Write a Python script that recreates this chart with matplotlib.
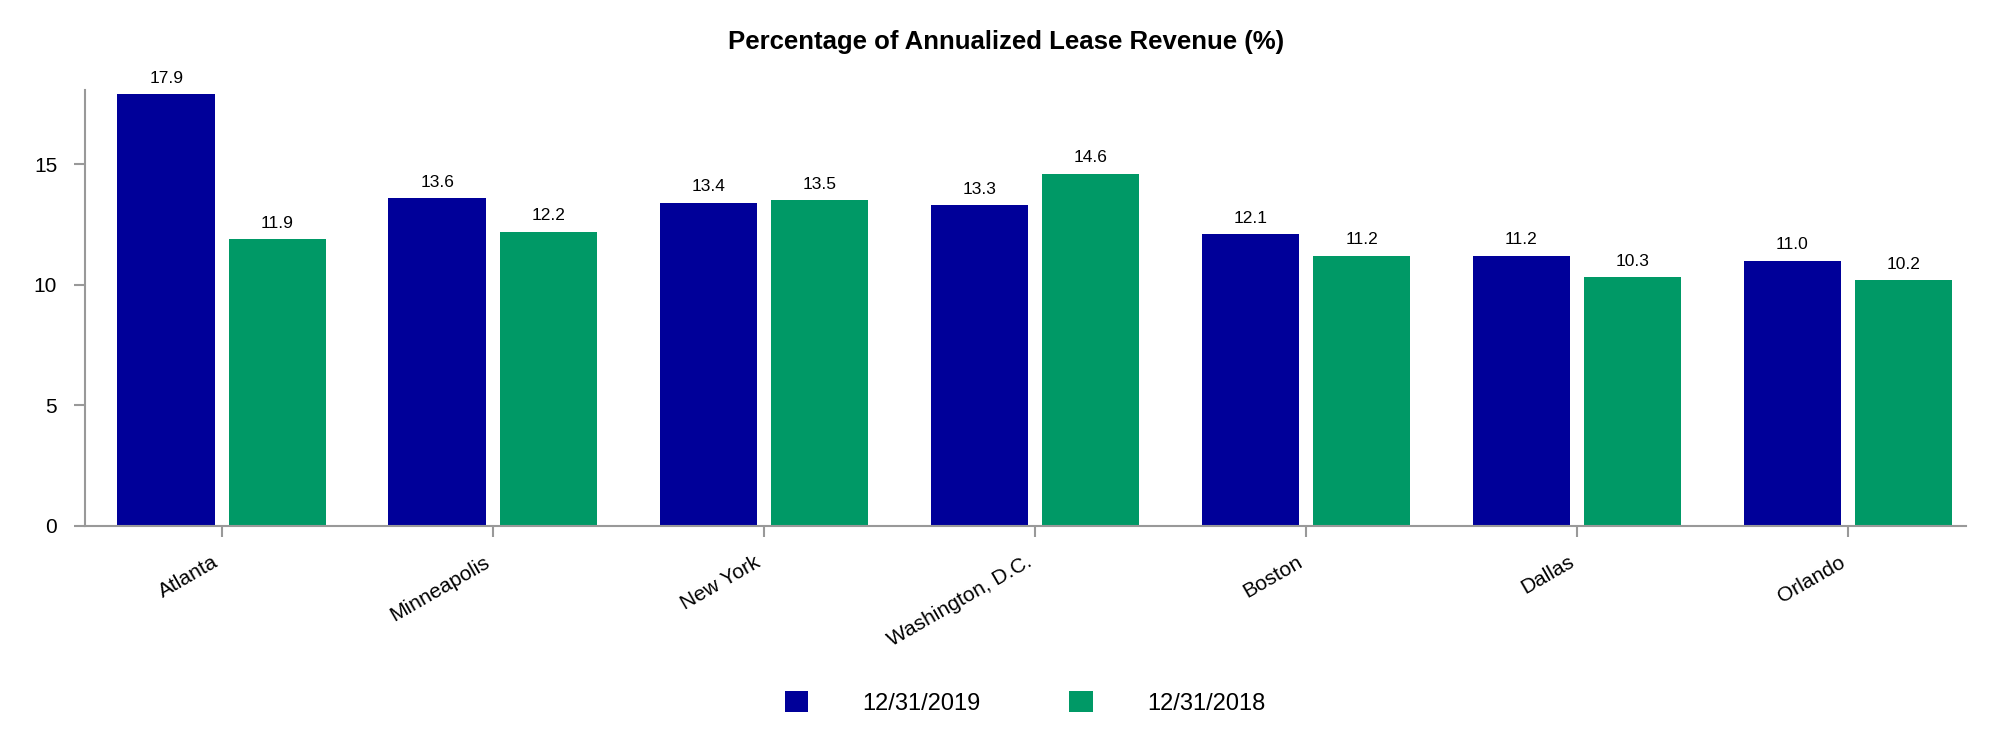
import numpy as np
import matplotlib
matplotlib.use("Agg")
import matplotlib.pyplot as plt
from matplotlib.transforms import ScaledTranslation

plt.rcParams['font.family'] = ['Liberation Sans', 'DejaVu Sans']

cities = ['Atlanta', 'Minneapolis', 'New York', 'Washington, D.C.',
          'Boston', 'Dallas', 'Orlando']
rev_2019 = [17.9, 13.6, 13.4, 13.3, 12.1, 11.2, 11.0]
rev_2018 = [11.9, 12.2, 13.5, 14.6, 11.2, 10.3, 10.2]
series_labels = ['12/31/2019', '12/31/2018']
yticks = [0, 5, 10, 15]

blue = '#000099'
green = '#009966'
axis_grey = '#999999'

fig = plt.figure(figsize=(20.12, 7.54), dpi=100)
ax = fig.add_axes([0.0422, 0.3024, 0.9349, 0.5782])

x = np.arange(len(cities))
w = 0.36
off = 0.205
b1 = ax.bar(x - off, rev_2019, w, color=blue, label=series_labels[0])
b2 = ax.bar(x + off, rev_2018, w, color=green, label=series_labels[1])

for bars in (b1, b2):
    ax.bar_label(bars, fmt='%.1f', padding=6, fontsize=12.5)

ax.set_xlim(-0.505, 6.435)
ax.set_ylim(0, 18.07)
ax.set_yticks(yticks)
ax.set_xticks(x)
ax.set_xticklabels(cities, rotation=30, ha='right')

# nudge the rotated labels a little to the right, like the original
shift = ScaledTranslation(4 / 100, 0, fig.dpi_scale_trans)
for lab in ax.get_xticklabels():
    lab.set_transform(lab.get_transform() + shift)

for s in ['top', 'right']:
    ax.spines[s].set_visible(False)
for s in ['left', 'bottom']:
    ax.spines[s].set_color(axis_grey)
    ax.spines[s].set_linewidth(1.5)

ax.tick_params(axis='y', length=8, width=1.5, color=axis_grey, pad=12, labelsize=15)
ax.tick_params(axis='x', length=8, width=1.5, color=axis_grey, pad=11, labelsize=15)

fig.text(0.5, 0.944, 'Percentage of Annualized Lease Revenue (%)',
         ha='center', va='center', fontsize=18.5, fontweight='bold')

fig.legend(loc='center', bbox_to_anchor=(0.5095, 0.068), ncol=2, frameon=False,
           fontsize=17, handlelength=1.0, handleheight=1.0,
           handletextpad=2.3, columnspacing=3.75)

fig.savefig('out.png', dpi=100)
